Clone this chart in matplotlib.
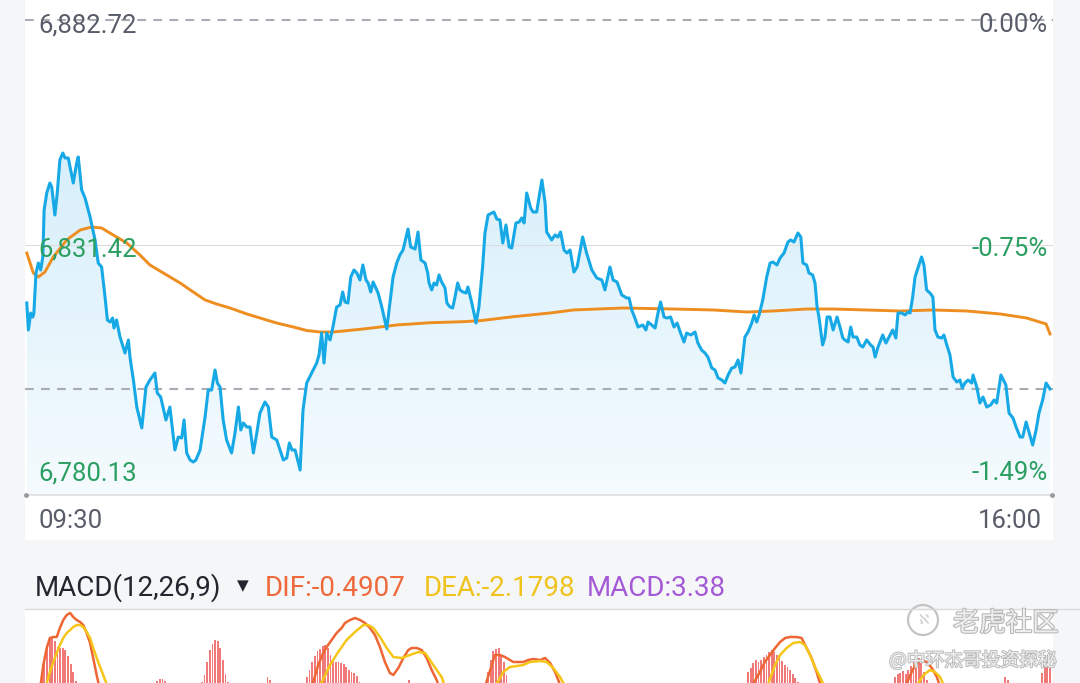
import numpy as np
import matplotlib.pyplot as plt
from matplotlib.patches import Rectangle, Ellipse
from matplotlib.colors import LinearSegmentedColormap
import matplotlib.patheffects as pe

plt.rcParams['font.family'] = ['Roboto', 'DejaVu Sans']

# minutes after 09:30 and index price
t_price = [0.3, 0.9, 1.8, 2.6, 3.0, 3.8, 4.7, 5.6, 6.4, 6.9,
           7.9, 9.1, 9.8, 11.0, 11.9, 12.9, 14.0, 14.9, 16.1, 18.0,
           19.3, 19.9, 21.2, 22.5, 24.4, 26.3, 27.5, 28.8, 30.1, 31.0,
           32.0, 33.0, 33.5, 34.5, 35.8, 37.7, 39.0, 39.6, 40.9, 42.2,
           44.1, 45.7, 47.2, 49.1, 50.0, 51.3, 53.3, 54.8, 56.7, 58.0,
           59.3, 60.2, 61.2, 62.5, 63.7, 64.7, 66.3, 68.2, 69.4, 70.7,
           72.0, 72.9, 73.9, 75.1, 76.4, 78.3, 79.6, 80.9, 81.8, 82.8,
           84.1, 85.3, 86.6, 87.9, 89.1, 91.0, 92.3, 93.6, 95.5, 98.0,
           99.3, 100.3, 101.3, 102.5, 104.4, 105.5, 106.9, 108.8, 110.7, 111.6,
           112.6, 113.5, 114.5, 115.8, 116.9, 118.3, 119.6, 120.6, 121.5, 122.6,
           123.7, 124.9, 126.0, 127.2, 128.3, 129.5, 130.3, 131.3, 132.2, 134.1,
           135.5, 137.4, 138.6, 139.8, 141.2, 142.4, 143.6, 144.7, 145.5, 146.5,
           148.2, 149.3, 150.4, 152.0, 153.0, 153.5, 154.5, 155.4, 156.4, 157.3,
           158.3, 159.6, 160.3, 161.5, 162.5, 163.4, 164.4, 165.3, 166.4, 167.6,
           168.3, 169.8, 171.4, 172.5, 173.9, 174.8, 176.0, 177.4, 178.2, 179.3,
           180.5, 181.6, 182.8, 184.0, 185.0, 186.6, 187.8, 188.8, 189.7, 190.7,
           192.2, 193.1, 194.5, 195.4, 196.5, 197.7, 198.3, 200.2, 201.5, 202.6,
           203.6, 204.9, 206.0, 207.2, 208.7, 209.9, 212.0, 213.5, 215.5, 217.4,
           219.3, 220.5, 222.4, 223.6, 225.1, 226.9, 228.8, 229.7, 230.7, 231.9,
           233.1, 234.9, 236.1, 236.9, 238.3, 239.6, 240.7, 241.7, 243.0, 244.1,
           245.5, 246.8, 248.0, 249.3, 250.6, 251.6, 253.2, 254.8, 255.9, 257.3,
           258.6, 259.7, 261.2, 262.4, 263.6, 265.0, 266.2, 267.4, 268.8, 270.0,
           271.2, 272.3, 273.8, 275.0, 276.4, 277.3, 278.3, 279.2, 280.6, 282.1,
           283.4, 284.5, 286.0, 287.2, 288.7, 290.2, 291.2, 292.5, 294.0, 295.1,
           295.9, 297.3, 298.2, 299.6, 300.5, 301.3, 302.0, 303.4, 304.3, 305.1,
           306.2, 307.4, 308.9, 310.0, 311.1, 311.9, 313.1, 314.1, 315.0, 316.4,
           317.6, 318.7, 320.2, 321.7, 322.6, 323.4, 324.5, 326.3, 327.5, 328.7,
           330.1, 331.3, 332.1, 333.5, 334.8, 335.9, 336.7, 337.7, 338.6, 339.7,
           341.1, 342.0, 343.0, 344.3, 345.4, 346.2, 347.3, 348.7, 349.6, 350.7,
           351.9, 353.1, 354.5, 355.7, 356.6, 357.6, 358.8, 360.2, 360.7, 362.1,
           363.3, 364.5, 365.9, 367.4, 368.7, 369.7, 371.3, 373.2, 374.4, 375.9,
           377.1, 378.6, 379.6, 380.9, 382.0, 383.4, 384.7, 385.8, 387.2, 388.5,
           390.0]
price = [6818.20, 6812.05, 6815.92, 6815.01, 6815.92, 6825.04, 6827.32, 6825.73, 6828.69, 6839.41,
         6843.28, 6845.56, 6844.65, 6838.27, 6843.28, 6850.80, 6852.40, 6851.26, 6851.26, 6845.56,
         6850.12, 6851.49, 6843.96, 6842.14, 6837.81, 6832.57, 6827.32, 6826.41, 6819.57, 6814.33,
         6813.87, 6814.78, 6812.50, 6814.33, 6810.45, 6806.80, 6809.77, 6805.89, 6800.65, 6794.49,
         6789.71, 6799.05, 6800.65, 6802.24, 6797.69, 6796.77, 6791.53, 6794.49, 6784.69, 6787.65,
         6787.43, 6791.53, 6784.01, 6782.41, 6781.95, 6782.41, 6784.69, 6792.21, 6798.37, 6798.37,
         6802.93, 6799.96, 6799.05, 6791.53, 6786.97, 6784.01, 6788.57, 6794.49, 6789.25, 6790.85,
         6789.93, 6789.93, 6784.01, 6788.57, 6793.12, 6795.63, 6794.49, 6787.65, 6786.97, 6782.41,
         6782.87, 6786.29, 6784.69, 6784.69, 6780.13, 6793.81, 6799.96, 6802.24, 6804.52, 6806.35,
         6811.36, 6804.52, 6811.36, 6809.77, 6812.73, 6817.29, 6817.75, 6820.71, 6818.43, 6818.20,
         6824.13, 6825.73, 6825.04, 6823.45, 6826.87, 6823.45, 6822.76, 6820.71, 6822.99, 6820.48,
         6817.29, 6812.28, 6818.20, 6824.13, 6827.32, 6829.15, 6830.29, 6833.02, 6835.07, 6830.97,
         6830.51, 6834.39, 6828.01, 6827.32, 6825.04, 6822.76, 6821.17, 6822.76, 6822.31, 6824.59,
         6822.99, 6821.62, 6818.20, 6817.29, 6817.06, 6819.57, 6822.76, 6821.17, 6820.71, 6820.48,
         6821.85, 6818.20, 6813.64, 6817.29, 6826.41, 6834.16, 6838.27, 6838.72, 6838.95, 6837.35,
         6837.13, 6831.88, 6835.99, 6830.97, 6830.74, 6836.44, 6836.67, 6837.58, 6836.44, 6843.28,
         6839.86, 6838.95, 6838.95, 6842.37, 6846.24, 6841.00, 6834.39, 6832.57, 6833.71, 6833.25,
         6834.39, 6830.29, 6829.60, 6830.29, 6825.27, 6826.41, 6833.25, 6829.60, 6825.73, 6823.90,
         6823.45, 6821.17, 6826.41, 6823.45, 6822.99, 6820.03, 6819.34, 6819.34, 6816.61, 6814.78,
         6812.73, 6813.19, 6812.05, 6813.87, 6813.19, 6812.50, 6815.92, 6818.43, 6815.01, 6814.78,
         6815.01, 6812.73, 6813.64, 6811.36, 6809.31, 6811.36, 6810.91, 6811.59, 6809.08, 6807.49,
         6806.80, 6805.89, 6803.38, 6802.93, 6801.10, 6800.65, 6799.96, 6801.79, 6803.38, 6803.61,
         6805.21, 6802.24, 6810.45, 6811.59, 6813.64, 6815.47, 6813.87, 6815.47, 6818.89, 6824.13,
         6827.32, 6827.55, 6826.87, 6828.46, 6829.60, 6832.11, 6832.57, 6832.11, 6834.16, 6833.25,
         6827.32, 6826.87, 6825.04, 6824.59, 6822.76, 6817.29, 6815.01, 6808.63, 6810.45, 6815.01,
         6815.01, 6812.05, 6815.01, 6812.73, 6810.22, 6809.77, 6809.31, 6812.73, 6810.45, 6810.45,
         6808.63, 6808.17, 6809.77, 6808.63, 6808.17, 6805.89, 6808.17, 6810.91, 6809.08, 6810.45,
         6812.05, 6810.22, 6815.92, 6815.92, 6815.47, 6816.15, 6815.92, 6819.57, 6824.13, 6826.18,
         6828.69, 6826.87, 6821.17, 6820.48, 6819.57, 6812.05, 6810.45, 6810.22, 6810.91, 6808.63,
         6806.35, 6801.33, 6800.19, 6800.65, 6798.83, 6799.96, 6800.65, 6799.96, 6801.79, 6799.05,
         6795.41, 6796.77, 6794.49, 6794.95, 6796.09, 6795.41, 6801.79, 6799.51, 6793.12, 6791.99,
         6789.93, 6787.65, 6787.65, 6791.07, 6788.79, 6785.83, 6789.25, 6793.12, 6796.09, 6799.96,
         6798.60]

# average price line
t_avg = [0.3, 2.8, 4.7, 7.2, 10.4, 15.5, 20.6, 25.0, 28.8, 33.2,
         38.4, 43.4, 47.2, 52.3, 58.7, 63.7, 68.2, 72.6, 77.7, 84.1,
         90.4, 95.5, 101.8, 106.9, 112.0, 117.0, 128.5, 141.2, 153.9, 166.5,
         172.9, 185.6, 199.6, 208.5, 227.5, 246.5, 261.8, 274.5, 284.6, 297.3,
         307.5, 320.2, 332.9, 345.6, 358.3, 371.0, 381.1, 388.5, 390.0]
avg_price = [6829.60, 6825.04, 6824.13, 6825.27, 6828.69, 6832.57, 6834.84, 6835.53, 6835.30, 6833.71,
             6831.88, 6829.15, 6826.87, 6825.04, 6822.76, 6820.71, 6818.89, 6817.97, 6817.06, 6815.70,
             6814.55, 6813.64, 6812.73, 6811.93, 6811.59, 6811.59, 6812.28, 6813.19, 6813.71, 6813.94,
             6814.17, 6815.08, 6815.92, 6816.61, 6817.06, 6816.83, 6816.61, 6816.15, 6816.38, 6816.83,
             6816.83, 6816.61, 6816.38, 6816.61, 6816.38, 6815.70, 6814.78, 6813.42, 6811.14]

prev_close = 6882.72
mid_level = 6831.42
low_level = 6780.13
last_price = 6798.60
left_labels = ['6,882.72', '6,831.42', '6,780.13']
right_labels = ['0.00%', '-0.75%', '-1.49%']
time_labels = ['09:30', '16:00']

# MACD panel (only the top of it is visible)
nan = float('nan')
bar_t = (list(range(5, 20)) + list(range(50, 54)) + list(range(67, 78)) + [92, 93]
         + list(range(107, 128)) + [146] + list(range(176, 184)) + list(range(275, 295))
         + list(range(331, 344)) + [373, 374] + list(range(387, 391)))
bar_v = [5.7, 6.5, 7.8, 9.5, 10.2, 10.3, 9.9, 9.3, 9.2, 9.2, 9.0, 8.4, 7.6, 6.8, 5.9,
         5.9, 6.1, 6.1, 5.9,
         5.8, 6.5, 7.8, 9.0, 9.6, 10.0, 9.9, 9.2, 8.0, 6.6, 5.8,
         6.3, 6.0,
         6.3, 7.0, 7.8, 8.4, 8.9, 9.1, 9.4, 9.5, 9.2, 8.5, 8.0, 7.8, 7.8, 7.7, 7.6, 7.3, 7.0, 6.8, 6.7, 6.4, 5.8,
         6.0,
         6.8, 8.0, 8.9, 9.1, 9.2, 8.5, 7.8, 6.5,
         6.8, 7.2, 7.7, 8.0, 7.8, 8.0, 8.3, 8.5, 8.8, 9.0, 8.8, 8.5, 8.2, 7.9, 7.5, 7.3, 7.0, 6.6, 6.2, 5.8,
         6.3, 6.6, 6.7, 6.9, 6.6, 7.0, 7.4, 7.9, 8.1, 8.2, 7.7, 6.8, 6.0,
         6.3, 6.0,
         6.7, 7.5, 7.8, 7.2]
dif_t = [5.3, 6.6, 7.9, 9.1, 10.4, 11.7, 12.9, 14.2, 15.5, 16.8, 18.0, 19.3, 20.6, 21.8, 23.1, 24.4, 25.6, 26.9, 28.2, nan,
         108.5, 111.3, 113.2, 114.5, 116.4, 118.3, 120.2, 121.5, 123.4, 125.3, 127.2, 129.1, 131.0, 132.9, 134.8,
         136.7, 138.6, 139.9, 141.8, 143.7, 145.6, 146.9, 148.8, 150.7, 152.6, 154.5, 156.4, 157.7, nan,
         174.4, 177.4, 178.6, 180.5, 182.4, 184.3, 185.6, 187.5, 189.4, 191.3, 193.2, 195.8, 197.7, 199.6, 201.5, 204.2, nan,
         275.7, 279.5, 281.4, 283.4, 285.3, 287.2, 289.1, 291.0, 293.5, 295.4, 297.3, 299.2, 301.1, 303.2, nan,
         334.4, 337.3, 339.2, 341.1, 343.0, 345.0, 346.9, 348.5]
dif_v = [5.0, 7.5, 9.2, 10.2, 10.3, 10.3, 11.2, 12.0, 12.5, 12.7, 12.3, 12.0, 11.8, 11.5, 10.7, 9.7, 8.2, 6.5, 5.0, nan,
         5.0, 7.5, 8.7, 9.3, 10.0, 10.7, 11.2, 11.7, 12.0, 12.2, 12.0, 11.7, 11.2, 10.5, 9.3,
         7.8, 6.7, 6.5, 7.2, 8.2, 9.0, 9.2, 9.2, 9.0, 8.2, 7.0, 6.0, 5.0, nan,
         5.0, 7.5, 8.5, 8.5, 8.3, 8.0, 7.8, 7.8, 7.8, 8.0, 8.1, 8.0, 8.2, 7.7, 6.8, 5.0, nan,
         5.0, 6.8, 7.8, 8.5, 9.2, 9.8, 10.2, 10.3, 10.3, 10.2, 9.2, 8.2, 6.8, 5.0, nan,
         5.0, 6.8, 7.7, 8.0, 7.8, 7.2, 6.3, 5.0]
dea_t = [7.2, 9.1, 10.4, 11.7, 12.9, 14.2, 15.5, 16.8, 18.0, 19.3, 20.6, 21.8, 23.1, 24.4, 25.6, 27.5, 29.4, 31.6, nan,
         111.2, 115.8, 118.9, 122.1, 125.3, 128.5, 130.4, 132.3, 134.8, 137.4, 139.9, 143.1, 146.2, 149.4, 152.0,
         155.1, 158.3, 160.0, nan,
         177.9, 181.8, 184.3, 186.9, 189.4, 191.9, 195.8, 198.3, 200.8, 203.4, 206.1, nan,
         281.8, 285.3, 287.2, 289.7, 292.2, 294.8, 296.7, 298.6, 300.5, 302.4, 304.7, nan,
         338.2, 341.8, 344.3, 346.2, 348.1, 350.4]
dea_v = [5.0, 6.8, 7.8, 8.7, 9.5, 10.2, 10.7, 11.0, 11.3, 11.5, 11.5, 11.3, 10.8, 10.2, 9.2, 7.8, 6.5, 5.0, nan,
         5.0, 7.5, 8.8, 10.0, 10.8, 11.5, 11.5, 11.2, 10.3, 9.2, 8.3, 8.2, 8.5, 8.8, 8.7,
         7.5, 6.3, 5.0, nan,
         5.0, 6.8, 7.3, 7.4, 7.5, 7.8, 7.9, 7.8, 7.2, 6.3, 5.0, nan,
         5.0, 7.5, 8.5, 9.2, 9.7, 9.8, 9.5, 8.5, 7.3, 6.3, 5.0, nan,
         5.0, 6.5, 7.0, 6.8, 6.3, 5.0]
macd_title = 'MACD(12,26,9)'
macd_items = ['DIF:-0.4907', 'DEA:-2.1798', 'MACD:3.38']

W, H = 1080, 683


def fx(px):
    return px / W


def fy(py):
    return 1 - py / H


GRAY = '#585d69'
GREEN = '#2b9e62'
BLUE = '#17a9e6'
ORANGE = '#ee8e20'

fig = plt.figure(figsize=(W / 100, H / 100), dpi=100, facecolor='#f5f6f8')

# white panel behind the price chart
fig.patches.append(Rectangle((fx(25), fy(540)), fx(1053) - fx(25), fy(0) - fy(540),
                             transform=fig.transFigure, facecolor='white', edgecolor='none', zorder=-5))

# ---- price panel ----
ax = fig.add_axes([fx(25), fy(500), fx(1053) - fx(25), fy(0) - fy(500)])
ax.set_facecolor('white')
ppm = 1024 / 390  # pixels per minute
ax.set_xlim(-1 / ppm, 390 + 3 / ppm)
span = prev_close - low_level
y_bottom = low_level - span * 30 / 450
y_top = prev_close + span * 20 / 450
ax.set_ylim(y_bottom, y_top)
base_line = low_level - span * 25 / 450
for s in ax.spines.values():
    s.set_visible(False)
ax.set_xticks([])
ax.set_yticks([])

# gradient area under the price line
poly = ax.fill_between(t_price, price, base_line, color='none', lw=0)
cmap = LinearSegmentedColormap.from_list('fill', ['#f5fbfe', '#d7effb'])
grad = np.linspace(0, 1, 256).reshape(-1, 1)
im = ax.imshow(grad, extent=[0, 390, base_line, max(price)], origin='lower',
               aspect='auto', cmap=cmap, zorder=1)
im.set_clip_path(poly.get_paths()[0], transform=ax.transData)

ax.axhline(prev_close, color='#a9adb3', lw=1.5, dashes=(4.2, 3.5), zorder=2)
ax.axhline(mid_level, color='#dcdcdc', lw=0.8, zorder=2)
ax.axhline(last_price, color='#a9adb3', lw=1.5, dashes=(4.2, 3.5), zorder=2)
ax.axhline(base_line, color='#e0e0e0', lw=1.3, zorder=2)
ax.plot([-0.1, 390.8], [base_line, base_line], 'o', color='#9a9a9a', ms=2.5, zorder=3, clip_on=False)

ax.plot(t_avg, avg_price, color=ORANGE, lw=2.1, zorder=4, solid_joinstyle='round')
ax.plot(t_price, price, color=BLUE, lw=2.2, zorder=5, solid_joinstyle='round')

# axis labels
fs = 18.5
fig.text(fx(38), fy(32), left_labels[0], color=GRAY, fontsize=fs, va='baseline')
fig.text(fx(38), fy(256), left_labels[1], color=GREEN, fontsize=fs, va='baseline')
fig.text(fx(38), fy(480), left_labels[2], color=GREEN, fontsize=fs, va='baseline')
fig.text(fx(1048), fy(32), right_labels[0], color=GRAY, fontsize=fs, va='baseline', ha='right')
fig.text(fx(1048), fy(256), right_labels[1], color=GREEN, fontsize=fs, va='baseline', ha='right')
fig.text(fx(1048), fy(480), right_labels[2], color=GREEN, fontsize=fs, va='baseline', ha='right')
fig.text(fx(38), fy(528), time_labels[0], color=GRAY, fontsize=fs, va='baseline')
fig.text(fx(1042), fy(528), time_labels[1], color=GRAY, fontsize=fs, va='baseline', ha='right')

# ---- MACD header ----
hfs = 20
fig.text(fx(35), fy(596), macd_title, color='#23262e', fontsize=hfs, va='baseline')
fig.text(fx(243), fy(590), '\u25bc', color='#23262e', fontsize=11, va='baseline', ha='center',
         family='DejaVu Sans')
fig.text(fx(265), fy(596), macd_items[0], color='#ee6a3c', fontsize=hfs, va='baseline')
fig.text(fx(424), fy(596), macd_items[1], color='#f0c21c', fontsize=hfs, va='baseline')
fig.text(fx(587), fy(596), macd_items[2], color='#a45ad6', fontsize=hfs, va='baseline')
fig.add_artist(plt.Line2D([fx(25), 1.0], [fy(609), fy(609)], transform=fig.transFigure,
                          color='#d9d9d9', lw=1))

# ---- MACD panel ----
ax2 = fig.add_axes([fx(25), 0, fx(1053) - fx(25), fy(610)])
ax2.set_facecolor('white')
ax2.set_xlim(-1 / ppm, 390 + 3 / ppm)
ax2.set_ylim(5.7, 13.0)
for s in ax2.spines.values():
    s.set_visible(False)
ax2.set_xticks([])
ax2.set_yticks([])
ax2.bar(bar_t, bar_v, width=0.7, color='#f07a7a', lw=0, zorder=2)
ax2.plot(dif_t, dif_v, color='#ee6633', lw=1.8, zorder=3)
ax2.plot(dea_t, dea_v, color='#f5c618', lw=1.8, zorder=4)

# ---- watermark ----
wm = [pe.withStroke(linewidth=1.6, foreground='#b9b9b9')]
fig.add_artist(Ellipse((fx(923), fy(620)), 30 / W, 30 / H, transform=fig.transFigure,
                       fill=False, ec='#c4c4c4', lw=1.6))
fig.text(fx(923), fy(620), '\u2135', color='#d0d0d0', fontsize=10, ha='center', va='center',
         family='DejaVu Sans')
fig.text(fx(953), fy(631), '老虎社区', color='#eeeeee', fontsize=19, va='baseline',
         family=['Noto Sans CJK SC', 'DejaVu Sans'], path_effects=wm)
fig.text(fx(889), fy(666), '@中环杰哥投资探秘', color='#eeeeee', fontsize=13.5, va='baseline',
         family=['Noto Sans CJK SC', 'DejaVu Sans'],
         path_effects=[pe.withStroke(linewidth=1.3, foreground='#b9b9b9')])

fig.savefig('out.png', dpi=100, facecolor=fig.get_facecolor())
